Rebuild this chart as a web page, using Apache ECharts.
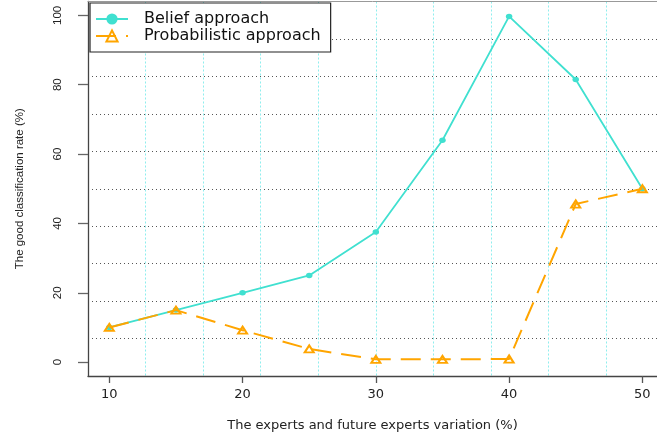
<!DOCTYPE html>
<html>
<head>
<meta charset="utf-8">
<script src="https://cdn.jsdelivr.net/npm/echarts@6/dist/echarts.min.js"></script>
<style>
html,body{margin:0;padding:0;background:#fff;}
#chart{width:657px;height:438px;}
</style>
</head>
<body>
<div id="chart"></div>
<script>
var variation = [10, 15, 20, 25, 30, 35, 40, 45, 50];
var beliefRate = [10, 15, 20, 25, 37.5, 64, 99.7, 81.5, 50];
var probabilisticRate = [10, 15, 9.2, 3.8, 0.8, 0.8, 0.9, 45.6, 50];
var xTickLabels = [10, 20, 30, 40, 50];
var yTickLabels = [0, 20, 40, 60, 80, 100];
var seriesNames = ['Belief approach', 'Probabilistic approach'];

function pairs(xs, ys) { return xs.map(function (x, i) { return [x, ys[i]]; }); }

var chart = echarts.init(document.getElementById('chart'), null, {renderer: 'canvas'});
chart.setOption({
  animation: false,
  backgroundColor: '#fff',
  grid: {left: 88, top: 1.5, right: 0, bottom: 62, show: false},
  legend: {
    orient: 'vertical', left: 90, top: 3,
    padding: [8, 10, 8, 5], itemGap: 1, itemWidth: 32, itemHeight: 14,
    borderColor: '#222', borderWidth: 1.2, backgroundColor: '#fff',
    textStyle: {fontFamily: 'DejaVu Sans', fontSize: 16, lineHeight: 16, color: '#111', padding: [0, 0, 0, 11]},
    data: seriesNames
  },
  xAxis: [{
    type: 'value', min: 8.4, max: 51.1,
    name: 'The experts and future experts variation (%)', nameLocation: 'middle', nameGap: 43,
    nameTextStyle: {fontFamily: 'DejaVu Sans', fontSize: 13, color: '#222'},
    axisLine: {show: true, onZero: false, lineStyle: {color: '#444', width: 1.3}},
    axisTick: {show: true, length: 7, customValues: xTickLabels, lineStyle: {color: '#555', width: 1.3}},
    axisLabel: {customValues: xTickLabels, margin: 12, fontFamily: 'DejaVu Sans', fontSize: 13, color: '#222'},
    splitLine: {show: false}
  }, {
    type: 'value', min: 0, max: 9.884, interval: 1, position: 'top',
    axisLine: {show: true, onZero: false, lineStyle: {color: '#999', width: 1}},
    axisTick: {show: false}, axisLabel: {show: false},
    splitLine: {show: true, showMinLine: false, showMaxLine: false, lineStyle: {color: '#8eeeee', width: 1, type: [2, 2]}}
  }],
  yAxis: [{
    type: 'value', min: -4, max: 104,
    name: 'The good classification rate (%)', nameLocation: 'middle', nameGap: 62,
    nameTextStyle: {fontFamily: 'Liberation Sans', fontSize: 11.5, color: '#222'},
    axisLine: {show: true, onZero: false, lineStyle: {color: '#444', width: 1.3}},
    axisTick: {show: true, length: 10, customValues: yTickLabels, lineStyle: {color: '#666', width: 1.3}},
    axisLabel: {customValues: yTickLabels, rotate: 90, margin: 24, fontFamily: 'Liberation Sans', fontSize: 11.5, color: '#222'},
    splitLine: {show: false}
  }, {
    type: 'value', min: 0, max: 10, interval: 1, position: 'right',
    axisLine: {show: false}, axisTick: {show: false}, axisLabel: {show: false},
    splitLine: {show: true, showMinLine: false, showMaxLine: false, lineStyle: {color: '#555', width: 1, type: [1, 3]}}
  }],
  series: [{
    name: seriesNames[0], type: 'line', xAxisIndex: 0, yAxisIndex: 0,
    data: pairs(variation, beliefRate),
    symbol: 'circle', symbolSize: [6.5, 5.5],
    lineStyle: {color: '#40E0D0', width: 1.8},
    itemStyle: {color: '#40E0D0'},
    emphasis: {disabled: true}, z: 3
  }, {
    name: seriesNames[1], type: 'line', xAxisIndex: 0, yAxisIndex: 0,
    data: pairs(variation, probabilisticRate),
    symbol: 'triangle', symbolSize: [9, 7],
    lineStyle: {color: '#FFA500', width: 2, type: [20, 10]},
    itemStyle: {color: 'rgba(255,255,255,0)', borderColor: '#FFA500', borderWidth: 2},
    emphasis: {disabled: true}, z: 4
  }]
});
</script>
</body>
</html>
